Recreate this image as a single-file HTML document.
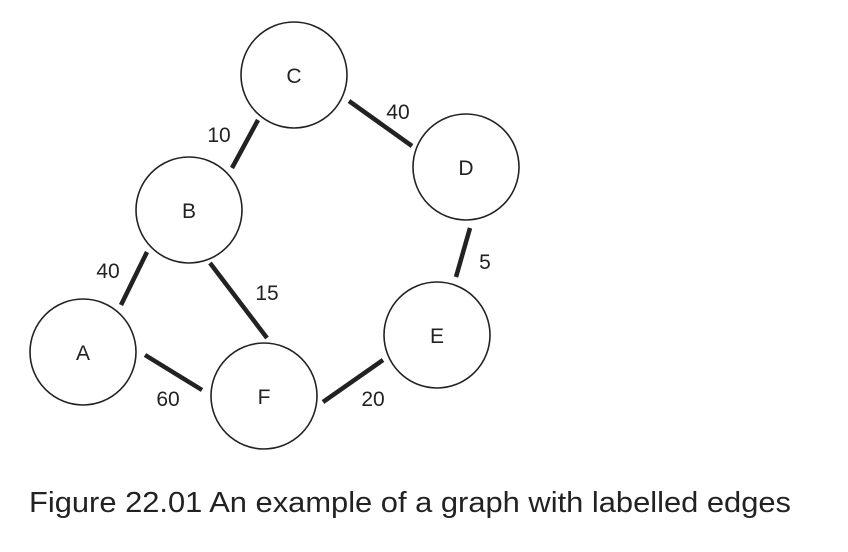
<!DOCTYPE html>
<html><head><style>body{margin:0;background:#fff}svg{display:block}</style></head><body>
<svg width="848" height="552" viewBox="0 0 848 552" xmlns="http://www.w3.org/2000/svg" font-family="Liberation Sans, sans-serif" fill="#222">
<g fill="none" stroke="#222" stroke-width="1.6">
<circle cx="294" cy="75" r="53"/>
<circle cx="466" cy="167" r="53"/>
<circle cx="189" cy="210" r="53"/>
<circle cx="83" cy="352" r="53"/>
<circle cx="264" cy="396" r="53"/>
<circle cx="437" cy="335" r="53"/>
</g>
<g stroke="#222" stroke-width="4.5">
<line x1="210" y1="263" x2="267" y2="338"/>
<line x1="145" y1="355" x2="202" y2="390"/>
<line x1="323" y1="402" x2="383" y2="360"/>
<line x1="121" y1="305" x2="147" y2="252"/>
<line x1="232" y1="168" x2="258" y2="120"/>
<line x1="349" y1="101" x2="412" y2="146"/>
<line x1="470" y1="228" x2="456" y2="277"/>
</g>
<g font-size="21" text-anchor="middle">
<text x="294" y="83">C</text>
<text x="466" y="175">D</text>
<text x="189" y="218">B</text>
<text x="83" y="360">A</text>
<text x="264" y="404">F</text>
<text x="437" y="343">E</text>
<text x="219" y="142">10</text>
<text x="398" y="119">40</text>
<text x="108" y="278">40</text>
<text x="267" y="300">15</text>
<text x="485" y="269">5</text>
<text x="168" y="406">60</text>
<text x="373" y="406">20</text>
</g>
<text x="29" y="512" font-size="29" textLength="762" lengthAdjust="spacingAndGlyphs">Figure 22.01 An example of a graph with labelled edges</text>
</svg>
</body></html>
